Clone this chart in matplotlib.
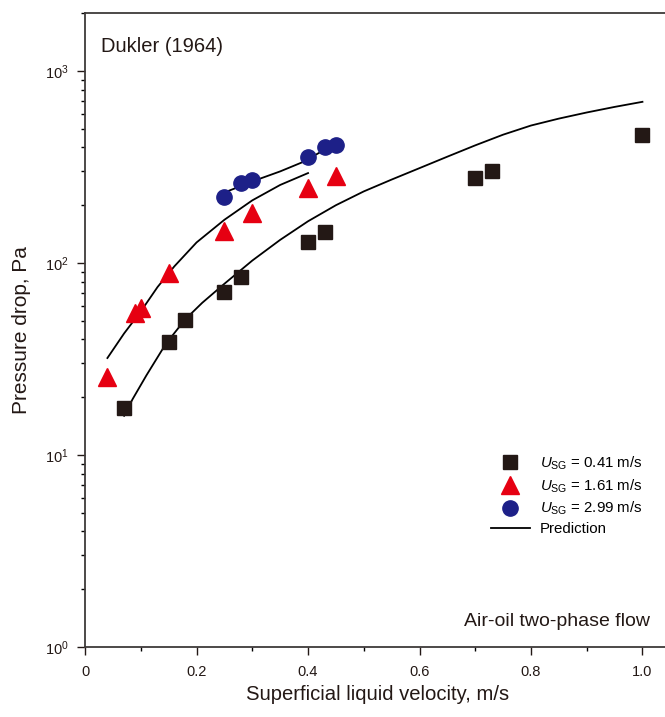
import numpy as np
import matplotlib
matplotlib.use("Agg")
from matplotlib import pyplot as plt
from matplotlib.ticker import LogLocator, MultipleLocator, NullFormatter

plt.rcParams['font.family'] = ['Liberation Sans', 'DejaVu Sans']
plt.rcParams['mathtext.fontset'] = 'custom'
plt.rcParams['mathtext.rm'] = 'Liberation Sans'
plt.rcParams['mathtext.it'] = 'Liberation Sans:italic'

# measured data
x_041 = [0.07, 0.15, 0.18, 0.25, 0.28, 0.40, 0.43, 0.70, 0.73, 1.00]
dp_041 = [17.6, 38.6, 50.3, 70.5, 84.5, 129, 145, 276, 300, 462]

x_161 = [0.04, 0.09, 0.10, 0.15, 0.25, 0.30, 0.40, 0.45]
dp_161 = [25.6, 55, 58, 89, 147, 183, 245, 285]

x_299 = [0.25, 0.28, 0.30, 0.40, 0.43, 0.45]
dp_299 = [220, 260, 271, 356, 402, 410]

# prediction curves
px_041 = [0.07, 0.085, 0.11, 0.145, 0.18, 0.21, 0.25, 0.30, 0.35, 0.40, 0.45,
          0.50, 0.55, 0.60, 0.65, 0.70, 0.75, 0.80, 0.85, 0.90, 0.95, 1.0]
pdp_041 = [16, 19.5, 26, 38, 51, 62, 78, 103, 132, 165, 200,
           236, 272, 312, 358, 410, 466, 520, 565, 608, 650, 691]

px_161 = [0.04, 0.07, 0.10, 0.13, 0.16, 0.20, 0.25, 0.30, 0.35, 0.40]
pdp_161 = [32, 43, 56, 75, 96, 128, 168, 212, 255, 294]

px_299 = [0.25, 0.28, 0.30, 0.35, 0.39, 0.42, 0.453]
pdp_299 = [233, 252, 266, 300, 335, 375, 426]

fig = plt.figure(figsize=(6.65, 7.17), dpi=100)
ax = fig.add_axes([0.128, 0.0976, 0.88, 0.884])

ax.plot(px_041, pdp_041, color='black', lw=1.3, label='Prediction', zorder=2)
ax.plot(px_161, pdp_161, color='black', lw=1.3, zorder=2)
ax.plot(px_299, pdp_299, color='black', lw=1.3, zorder=2)

ax.plot(x_041, dp_041, 's', color='#231815', ms=10, ls='none',
        label=r'$U_{\rm SG}$ = 0.41 m/s', zorder=3)
ax.plot(x_161, dp_161, '^', color='#e60012', ms=13, ls='none',
        label=r'$U_{\rm SG}$ = 1.61 m/s', zorder=3)
ax.plot(x_299, dp_299, 'o', color='#1d2088', ms=11, ls='none',
        label=r'$U_{\rm SG}$ = 2.99 m/s', zorder=3)

ax.set_yscale('log')
ax.set_xlim(0, 1.05)
ax.set_ylim(1, 2000)

ax.xaxis.set_minor_locator(MultipleLocator(0.1))
ax.set_xticks([0, 0.2, 0.4, 0.6, 0.8, 1.0])
ax.set_xticklabels(['0', '0.2', '0.4', '0.6', '0.8', '1.0'])
ax.yaxis.set_major_locator(LogLocator(base=10))
ax.yaxis.set_minor_locator(LogLocator(base=10, subs=np.arange(2, 10)))
ax.yaxis.set_minor_formatter(NullFormatter())

ax.tick_params(axis='both', which='major', direction='out', length=6, width=1,
               labelsize=10.5, colors='#231815')
ax.tick_params(axis='both', which='minor', direction='out', length=3, width=1)
ax.tick_params(axis='x', pad=7)
ax.tick_params(axis='y', pad=6)

for s in ['left', 'bottom', 'top']:
    ax.spines[s].set_color('#3e3a39')
    ax.spines[s].set_linewidth(1.3)
ax.spines['right'].set_visible(False)

ax.set_xlabel('Superficial liquid velocity, m/s', fontsize=14.6, labelpad=4,
              color='#231815')
ax.set_ylabel('Pressure drop, Pa', fontsize=15, labelpad=10, color='#231815')

ax.text(0.027, 0.948, 'Dukler (1964)', transform=ax.transAxes, fontsize=14.5,
        va='center', ha='left', color='#231815')
ax.text(0.965, 0.04, 'Air-oil two-phase flow', transform=ax.transAxes,
        fontsize=14, va='center', ha='right', color='#231815')

h, l = ax.get_legend_handles_labels()
order = [1, 2, 3, 0]
ax.legend([h[i] for i in order], [l[i] for i in order], frameon=False,
          loc='upper left', bbox_to_anchor=(0.67, 0.325), fontsize=10.8,
          handlelength=2.6, handletextpad=0.7, labelspacing=0.35)

fig.savefig('out.png', dpi=100)
